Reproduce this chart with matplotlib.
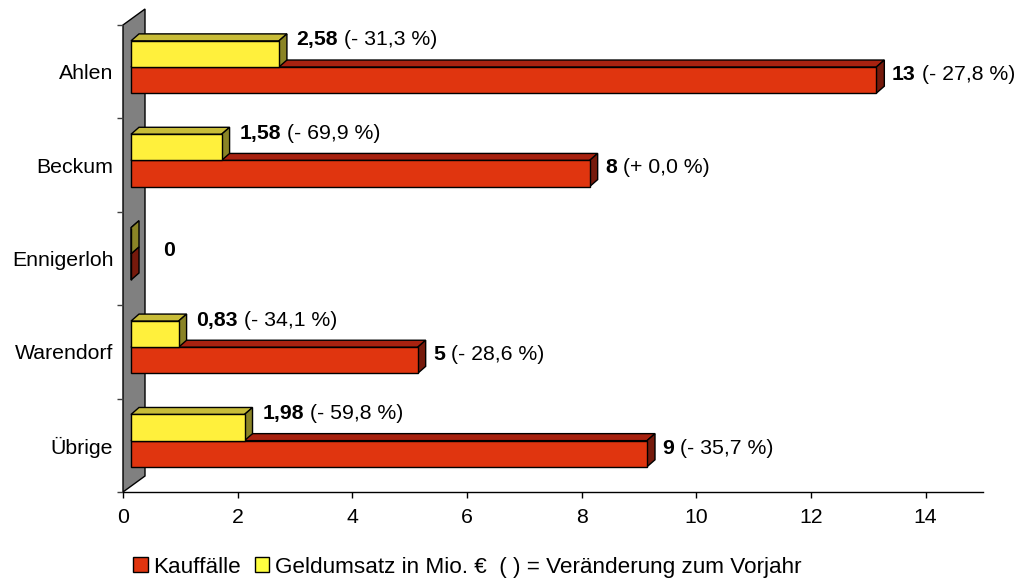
import matplotlib
matplotlib.use('Agg')
import matplotlib.pyplot as plt
from matplotlib.patches import Polygon, Patch

plt.rcParams['font.family'] = ['Liberation Sans', 'DejaVu Sans']

# data
categories = ['Ahlen', 'Beckum', 'Ennigerloh', 'Warendorf', 'Übrige']
kauffaelle = [13, 8, 0, 5, 9]
geldumsatz = [2.58, 1.58, 0, 0.83, 1.98]
kauf_labels = ['13', '8', '0', '5', '9']
geld_labels = ['2,58', '1,58', '', '0,83', '1,98']
kauf_change = ['- 27,8 %', '+ 0,0 %', '', '- 28,6 %', '- 35,7 %']
geld_change = ['- 31,3 %', '- 69,9 %', '', '- 34,1 %', '- 59,8 %']
xticks = [0, 2, 4, 6, 8, 10, 12, 14]

# colours
red_front, red_top, red_side = '#E0350F', '#A82210', '#761A0C'
yel_front, yel_top, yel_side = '#FFF03C', '#C8BC38', '#8A8426'

fs = 15.3

fig = plt.figure(figsize=(10.18, 5.81), dpi=100)
ax = fig.add_axes([123/1018, 89/581, 860/1018, 467/581])
ax.set_xlim(0, 15)
ax.set_ylim(0, 5)

n = len(categories)
centers = [n - 0.5 - i for i in range(n)]

# 3d offsets in data units
wdx, wdy = 22/57.33, 16/93.4
bdx, bdy = 8/57.33, 7/93.4
x0 = bdx

# back wall
wall = Polygon([(0, 0), (wdx, wdy), (wdx, n + wdy), (0, n)], closed=True,
               facecolor='#808080', edgecolor='k', lw=1, clip_on=False, zorder=1)
ax.add_patch(wall)


def bar3d(y0, y1, val, cf, ct, cs):
    x1 = x0 + val
    front = Polygon([(x0, y0), (x1, y0), (x1, y1), (x0, y1)], facecolor=cf,
                    edgecolor='k', lw=1, clip_on=False, zorder=3)
    top = Polygon([(x0, y1), (x1, y1), (x1 + bdx, y1 + bdy), (x0 + bdx, y1 + bdy)],
                  facecolor=ct, edgecolor='k', lw=1, clip_on=False, zorder=3)
    side = Polygon([(x1, y0), (x1 + bdx, y0 + bdy), (x1 + bdx, y1 + bdy), (x1, y1)],
                   facecolor=cs, edgecolor='k', lw=1, clip_on=False, zorder=3)
    for p in (top, side, front):
        ax.add_patch(p)


def label(x, y, bold, rest):
    t = ax.text(x, y, bold, fontsize=fs, fontweight='bold', va='center', ha='left', zorder=5)
    if rest:
        ax.annotate(' (' + rest + ')', xy=(1, 0), xycoords=t, fontsize=fs,
                    va='bottom', ha='left', zorder=5)


gap = 0.13
for c, k, g, kl, gl, kc, gc in zip(centers, kauffaelle, geldumsatz, kauf_labels,
                                    geld_labels, kauf_change, geld_change):
    bar3d(c - 0.23, c + 0.05, k, red_front, red_top, red_side)
    bar3d(c + 0.05, c + 0.33, g, yel_front, yel_top, yel_side)
    if k == 0 and g == 0:
        label(x0 + bdx + 0.42, c + 0.09, kl, kc)
        continue
    label(x0 + g + bdx + gap + 0.04, c + 0.34, gl, gc)
    label(x0 + k + bdx + gap, c - 0.03, kl, kc)

# axes styling
for s in ['top', 'right', 'left']:
    ax.spines[s].set_visible(False)
ax.spines['bottom'].set_linewidth(1)
ax.set_xticks(xticks)
ax.set_xticklabels([str(v) for v in xticks], fontsize=fs)
ax.tick_params(axis='x', length=4.5, width=1, pad=7)
ax.set_yticks(range(n + 1))
ax.set_yticklabels([''] * (n + 1))
ax.tick_params(axis='y', which='major', length=4.5, width=1, color='#404040')
ax.set_yticks(centers, minor=True)
ax.set_yticklabels(categories, minor=True, fontsize=fs)
ax.tick_params(axis='y', which='minor', length=0, pad=7)

# legend
handles = [Patch(facecolor=red_front, edgecolor='k', lw=1),
           Patch(facecolor='#FFFF40', edgecolor='k', lw=1)]
fig.legend(handles, ['Kauffälle', 'Geldumsatz in Mio. €  ( ) = Veränderung zum Vorjahr'],
           loc='center', bbox_to_anchor=(0.459, 0.024), ncol=2, frameon=False,
           fontsize=16.2, handlelength=0.65, handleheight=0.65, handletextpad=0.25,
           columnspacing=0.6, borderpad=0)

fig.savefig('out.png', dpi=100)
